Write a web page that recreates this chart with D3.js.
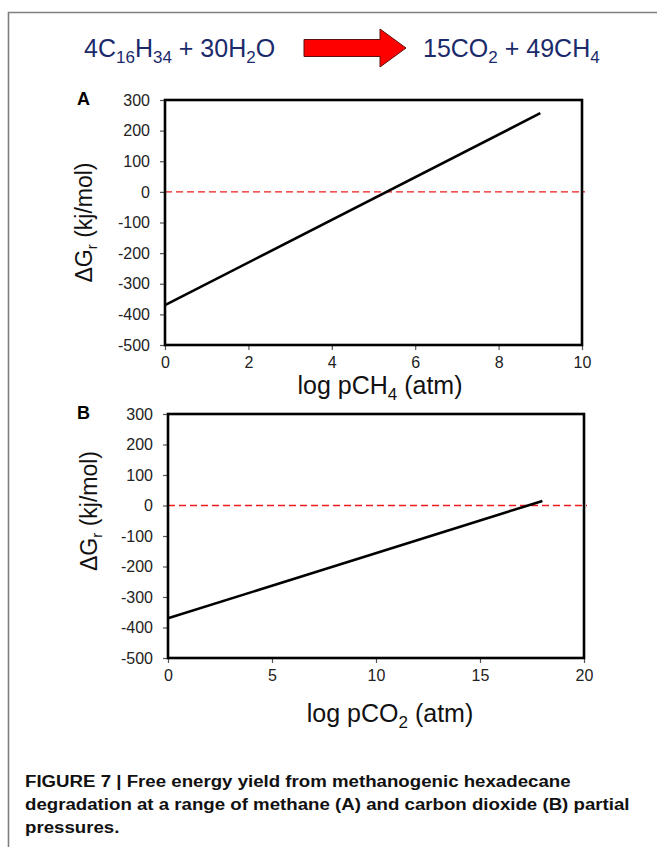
<!DOCTYPE html>
<html lang="en">
<head>
<meta charset="utf-8">
<title>Figure 7</title>
<script src="https://cdnjs.cloudflare.com/ajax/libs/d3/7.8.5/d3.min.js"></script>
<style>
  body { margin: 0; background: #fff; }
  svg { display: block; font-family: Arial, "Liberation Sans", sans-serif; }
</style>
</head>
<body>
<div id="fig"></div>
<script>
// values
var yTicks = [-500, -400, -300, -200, -100, 0, 100, 200, 300];
var xTicksA = [0, 2, 4, 6, 8, 10];
var xTicksB = [0, 5, 10, 15, 20];
var logCH4 = [0, 9];          // panel A, log pCH4
var dGA = [-370, 257];        // panel A, delta G (kj/mol)
var logCO2 = [0, 18];         // panel B, log pCO2
var dGB = [-370, 15];         // panel B, delta G (kj/mol)
var zeroLine = [0];

var W = 657, H = 847;
var svg = d3.select("#fig").append("svg").attr("width", W).attr("height", H);

// page frame (grey lines top + left)
svg.append("path")
  .attr("d", "M8.5,847V12.5H657")
  .attr("fill", "none").attr("stroke", "#7f7f7f").attr("stroke-width", 1.6);

// --- reaction equation ---
var navy = "#1b2a6b";
// parts: plain strings or {sub: "..."}; dy goes on the tspan that follows a subscript
function formula(x, parts) {
  var t = svg.append("text").attr("x", x).attr("y", 57)
    .attr("fill", navy).style("font-size", "25px");
  var lowered = false;
  parts.forEach(function (p) {
    var s = t.append("tspan");
    if (typeof p === "object") {
      s.attr("dy", 6).style("font-size", "17px").text(p.sub);
      lowered = true;
    } else {
      if (lowered) s.attr("dy", -6);
      lowered = false;
      s.text(p);
    }
  });
  return t;
}
formula(84, ["4C", {sub: "16"}, "H", {sub: "34"}, " + 30H", {sub: "2"}, "O"]);
formula(423, ["15CO", {sub: "2"}, " + 49CH", {sub: "4"}]);

svg.append("path")
  .attr("d", "M304,39.5H380V29L406,48L380,67V56.5H304Z")
  .attr("fill", "#ff0000").attr("stroke", "#5a1010").attr("stroke-width", 1);

// --- panels ---
function panel(cfg) {
  var x = d3.scaleLinear().domain(cfg.xDomain).range([cfg.left, cfg.right]);
  var y = d3.scaleLinear().domain([-500, 300]).range([cfg.bottom, cfg.top]);
  var g = svg.append("g");
  var plain = function (d) { return String(d); };   // hyphen minus like the original

  var xAxis = g.append("g").attr("transform", "translate(0," + cfg.bottom + ")")
    .call(d3.axisBottom(x).tickValues(cfg.xTicks).tickFormat(plain)
      .tickSize(5).tickSizeOuter(0).tickPadding(7));
  var yAxis = g.append("g").attr("transform", "translate(" + cfg.left + ",0)")
    .call(d3.axisLeft(y).tickValues(yTicks).tickFormat(plain)
      .tickSize(5).tickSizeOuter(0).tickPadding(10));
  [xAxis, yAxis].forEach(function (a) {
    a.select(".domain").remove();
    a.selectAll("line").attr("stroke", "#555").attr("stroke-width", 1.2);
    a.selectAll("text").attr("fill", "#222").style("font-size", "16px")
      .style("font-family", "Arial, 'Liberation Sans', sans-serif");
  });

  // zero reference (dashed red)
  g.selectAll(".zero").data(zeroLine).enter().append("line")
    .attr("x1", cfg.left).attr("x2", cfg.right + 3)
    .attr("y1", function (d) { return y(d); }).attr("y2", function (d) { return y(d); })
    .attr("stroke", "#ee1c1c").attr("stroke-width", 1.3).attr("stroke-dasharray", "7,4");

  var pts = cfg.xs.map(function (v, i) { return [v, cfg.ys[i]]; });
  g.append("path").datum(pts)
    .attr("d", d3.line().x(function (d) { return x(d[0]); }).y(function (d) { return y(d[1]); }))
    .attr("fill", "none").attr("stroke", "#000").attr("stroke-width", 2.6);

  // plot frame
  g.append("rect")
    .attr("x", cfg.left).attr("y", cfg.top)
    .attr("width", cfg.right - cfg.left).attr("height", cfg.bottom - cfg.top)
    .attr("fill", "none").attr("stroke", "#000").attr("stroke-width", 2.6);

  // panel letter
  g.append("text").attr("x", 77).attr("y", cfg.top + 5)
    .style("font-size", "18px").style("font-weight", "bold").text(cfg.letter);

  // y title
  var yc = (cfg.top + cfg.bottom) / 2 + cfg.yTitleShift;
  var yt = g.append("text")
    .attr("transform", "translate(" + cfg.yTitleX + "," + yc + ") rotate(-90)")
    .attr("text-anchor", "middle").attr("fill", "#111").style("font-size", "23px");
  yt.append("tspan").text("\u0394G");
  yt.append("tspan").attr("dy", 5).style("font-size", "15px").text("r");
  yt.append("tspan").attr("dy", -5).text(" (kj/mol)");

  // x title
  var xt = g.append("text").attr("x", cfg.xTitleX).attr("y", cfg.xTitleY)
    .attr("text-anchor", "middle").attr("fill", "#111").style("font-size", "25px");
  xt.append("tspan").text(cfg.xTitle[0]);
  xt.append("tspan").attr("dy", 6).style("font-size", "17px").text(cfg.xTitle[1]);
  xt.append("tspan").attr("dy", -6).text(cfg.xTitle[2]);
}

panel({
  letter: "A", left: 165, right: 582, top: 100, bottom: 345,
  xDomain: [0, 10], xTicks: xTicksA, xs: logCH4, ys: dGA,
  yTitleX: 92, yTitleShift: 0,
  xTitle: ["log pCH", "4", " (atm)"], xTitleX: 380, xTitleY: 394
});
panel({
  letter: "B", left: 168, right: 584, top: 414, bottom: 658,
  xDomain: [0, 20], xTicks: xTicksB, xs: logCO2, ys: dGB,
  yTitleX: 97, yTitleShift: -25,
  xTitle: ["log pCO", "2", " (atm)"], xTitleX: 390, xTitleY: 722
});

// --- caption (condensed bold, squeezed so line 2 spans like the original) ---
var capLines = [
  "FIGURE 7 | Free energy yield from methanogenic hexadecane",
  "degradation at a range of methane (A) and carbon dioxide (B) partial",
  "pressures."
];
var cap = svg.append("g");
var capText = cap.selectAll("text").data(capLines).enter().append("text")
  .attr("x", 0).attr("y", function (d, i) { return i * 23; })
  .attr("fill", "#111")
  .style("font-family", "'Liberation Sans Narrow', 'Arial Narrow', 'Liberation Sans', Arial, sans-serif")
  .style("font-size", "17px").style("font-weight", "bold")
  .text(function (d) { return d; });
var w2 = capText.nodes()[1].getComputedTextLength();
cap.attr("transform", "translate(25,787) scale(" + (605 / w2) + ",1)");
</script>
</body>
</html>
